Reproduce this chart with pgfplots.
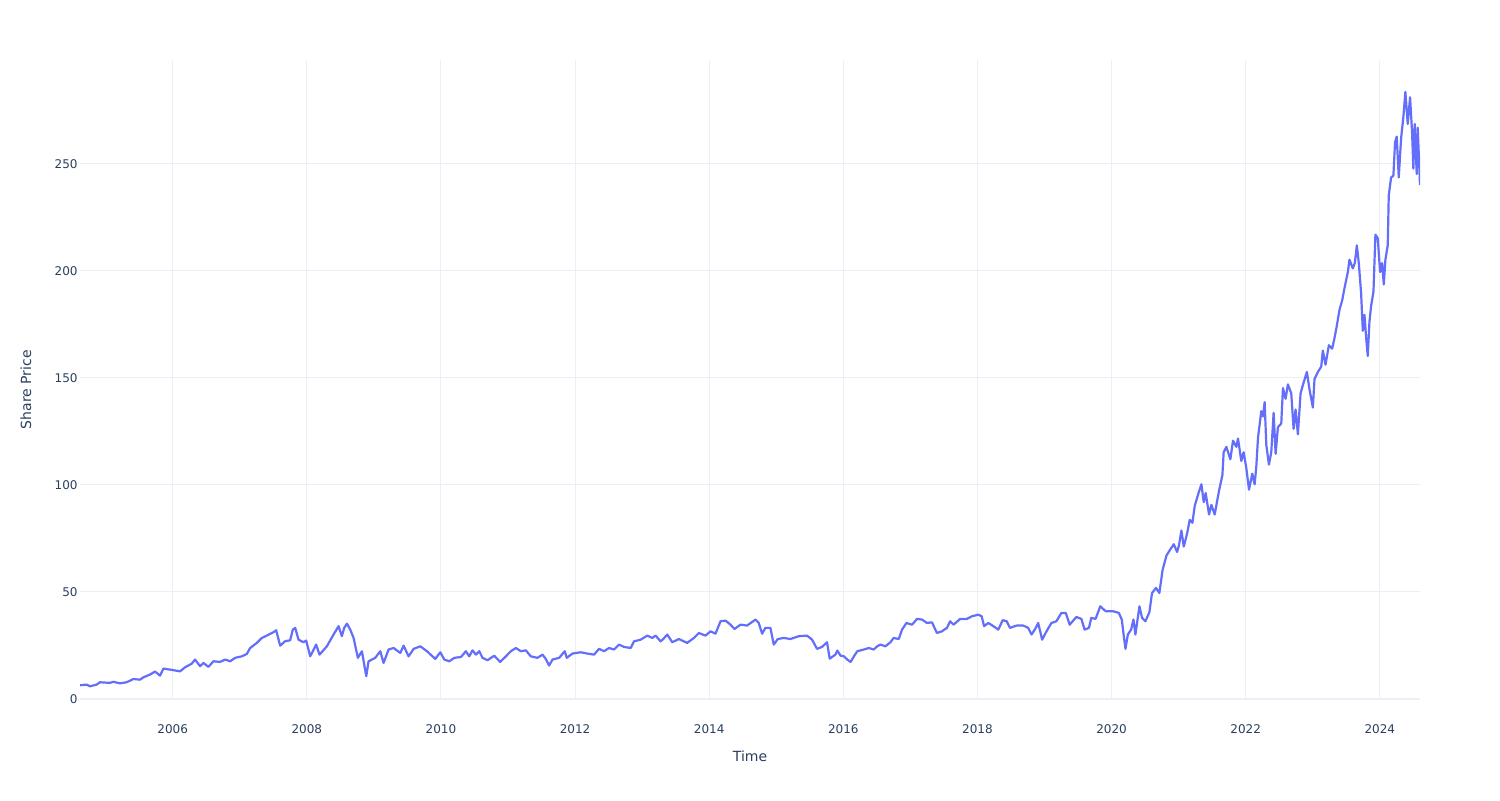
\documentclass[border=0pt]{standalone}
\usepackage{fontspec}
\setmainfont{DejaVu Sans}
\usepackage{pgfplots}
\pgfplotsset{compat=1.18}

\definecolor{linec}{HTML}{636EFA}
\definecolor{gridc}{HTML}{EBF0F8}
\definecolor{textc}{HTML}{2A3F5F}

\begin{document}
\begin{tikzpicture}
\path (0,0) rectangle (750pt,400pt);
\begin{axis}[
  scale only axis, width=670pt, height=320pt,
  at={(40pt,50pt)}, anchor=south west,
  xmin=2004.617, xmax=2024.60, ymin=-0.5, ymax=298.6,
  xtick={2006,2008,...,2024}, ytick={0,50,...,250},
  grid=major, major grid style={gridc, line width=0.5pt},
  axis line style={draw=none}, major tick length=0pt,
  /pgf/number format/assume math mode=true,
  /pgf/number format/1000 sep={},
  tick label style={font=\fontsize{6}{7}\selectfont, text=textc},
  xticklabel style={anchor=center, yshift=-14.5pt},
  yticklabel style={anchor=east, inner sep=0pt, xshift=-1pt},
  label style={font=\fontsize{7}{8.4}\selectfont, text=textc},
  xlabel={Time}, xlabel style={at={(axis description cs:0.5,-0.0875)}, anchor=center},
  ylabel={Share Price}, ylabel style={at={(axis description cs:-0.0403,0.485)}, anchor=center},
]
\draw[gridc, line width=1pt] (axis cs:2004.617,0) -- (axis cs:2024.60,0);
\addplot[linec, line width=1.1pt, mark=none, line join=round] table {
x y
2004.617 6.4
2004.716 6.7
2004.766 5.9
2004.866 6.7
2004.915 7.8
2005.065 7.5
2005.114 8.0
2005.214 7.3
2005.313 7.8
2005.413 9.3
2005.512 9.0
2005.562 10.1
2005.662 11.4
2005.736 12.8
2005.811 10.9
2005.861 14.2
2005.960 13.7
2006.109 12.9
2006.184 14.8
2006.284 16.5
2006.333 18.4
2006.408 15.3
2006.458 16.8
2006.532 15.0
2006.607 17.6
2006.706 17.3
2006.781 18.4
2006.856 17.6
2006.930 19.2
2007.030 19.9
2007.104 21.0
2007.154 23.8
2007.254 26.2
2007.328 28.5
2007.403 29.6
2007.502 31.2
2007.542 32.1
2007.602 24.9
2007.677 27.0
2007.751 27.4
2007.791 32.4
2007.826 33.2
2007.876 27.7
2007.950 26.5
2007.990 27.3
2008.050 19.9
2008.139 25.4
2008.189 20.7
2008.299 24.6
2008.398 30.1
2008.473 34.0
2008.522 29.3
2008.557 33.2
2008.597 35.2
2008.647 32.4
2008.697 28.5
2008.761 19.2
2008.821 22.3
2008.886 10.6
2008.920 17.6
2009.020 19.2
2009.095 22.3
2009.144 16.8
2009.219 23.1
2009.294 23.8
2009.393 21.5
2009.443 24.9
2009.517 19.9
2009.592 23.4
2009.692 24.6
2009.791 22.3
2009.915 18.7
2009.990 21.8
2010.050 18.4
2010.124 17.6
2010.199 19.2
2010.298 19.6
2010.372 22.3
2010.422 19.9
2010.471 22.7
2010.521 20.7
2010.571 22.3
2010.620 19.2
2010.695 18.1
2010.794 20.2
2010.883 17.3
2010.968 19.9
2011.042 22.3
2011.117 23.8
2011.191 22.3
2011.266 22.7
2011.340 19.9
2011.439 19.2
2011.514 20.7
2011.563 18.7
2011.613 15.6
2011.663 18.4
2011.762 19.2
2011.846 22.3
2011.876 19.2
2011.960 21.2
2012.084 21.8
2012.184 21.2
2012.283 20.7
2012.357 23.4
2012.432 22.3
2012.506 23.8
2012.581 23.1
2012.655 25.4
2012.730 24.3
2012.829 23.8
2012.878 26.9
2012.978 27.7
2013.077 29.6
2013.151 28.5
2013.201 29.6
2013.275 26.9
2013.315 28.0
2013.375 30.1
2013.449 26.5
2013.548 28.0
2013.623 26.9
2013.672 26.2
2013.772 28.5
2013.846 30.8
2013.945 29.6
2014.020 31.6
2014.094 30.5
2014.169 36.3
2014.243 36.6
2014.318 34.7
2014.377 32.7
2014.467 34.7
2014.566 34.3
2014.690 37.1
2014.739 35.5
2014.789 30.5
2014.839 33.2
2014.913 33.2
2014.963 25.4
2015.022 28.0
2015.112 28.5
2015.211 28.0
2015.335 29.3
2015.459 29.6
2015.534 27.7
2015.608 23.4
2015.682 24.3
2015.757 26.5
2015.797 18.8
2015.881 20.7
2015.911 22.6
2015.960 20.2
2016.010 19.9
2016.059 18.4
2016.109 17.3
2016.158 19.9
2016.208 22.3
2016.307 23.1
2016.381 23.8
2016.455 23.1
2016.505 24.6
2016.554 25.4
2016.629 24.6
2016.703 26.5
2016.752 28.5
2016.827 28.0
2016.876 32.4
2016.941 35.5
2017.025 34.7
2017.099 37.4
2017.173 37.1
2017.248 35.5
2017.322 35.8
2017.396 30.8
2017.470 31.6
2017.545 33.2
2017.594 36.3
2017.644 34.7
2017.743 37.4
2017.842 37.4
2017.916 38.6
2018.015 39.4
2018.064 38.6
2018.099 34.0
2018.163 35.5
2018.238 34.0
2018.312 32.4
2018.376 36.8
2018.436 36.3
2018.485 33.2
2018.584 34.3
2018.683 34.3
2018.757 33.2
2018.807 30.1
2018.856 32.4
2018.906 35.5
2018.965 27.7
2019.030 31.6
2019.104 35.5
2019.178 36.3
2019.252 40.2
2019.317 40.2
2019.376 34.7
2019.475 38.3
2019.550 37.4
2019.599 32.4
2019.663 33.2
2019.698 37.9
2019.762 37.4
2019.832 43.3
2019.911 41.0
2020.020 41.0
2020.109 40.2
2020.153 37.1
2020.183 29.3
2020.208 23.4
2020.243 30.1
2020.292 32.4
2020.327 37.1
2020.356 30.1
2020.416 43.3
2020.455 37.9
2020.505 36.3
2020.564 40.5
2020.604 49.5
2020.663 51.9
2020.713 49.5
2020.762 60.4
2020.819 67.0
2020.868 69.5
2020.928 72.3
2020.978 68.7
2021.007 72.0
2021.042 78.7
2021.077 71.2
2021.127 77.3
2021.166 83.7
2021.206 82.3
2021.241 90.3
2021.305 97.0
2021.340 100.3
2021.375 92.0
2021.404 96.2
2021.454 86.2
2021.489 90.7
2021.538 86.2
2021.603 97.3
2021.653 104.5
2021.672 115.3
2021.712 117.8
2021.772 112.0
2021.811 120.7
2021.861 117.8
2021.886 121.7
2021.935 111.2
2021.970 115.3
2022.010 107.8
2022.050 97.8
2022.099 105.3
2022.134 100.3
2022.159 108.7
2022.184 122.0
2022.233 134.5
2022.258 132.0
2022.283 138.7
2022.308 118.7
2022.347 109.5
2022.382 115.3
2022.417 133.7
2022.447 114.5
2022.481 127.0
2022.531 128.7
2022.556 145.3
2022.596 140.3
2022.630 147.0
2022.680 142.8
2022.715 126.2
2022.744 135.3
2022.779 123.7
2022.819 142.8
2022.864 147.8
2022.913 152.8
2022.953 144.5
2023.002 136.2
2023.027 149.5
2023.077 152.8
2023.127 155.3
2023.151 162.8
2023.191 156.2
2023.241 165.3
2023.290 163.7
2023.325 168.7
2023.360 174.5
2023.400 182.0
2023.439 186.2
2023.474 192.0
2023.524 199.5
2023.548 205.3
2023.598 201.2
2023.628 203.7
2023.658 212.0
2023.687 203.7
2023.722 189.5
2023.747 172.0
2023.772 179.5
2023.797 168.7
2023.821 160.3
2023.846 176.2
2023.871 183.7
2023.906 190.3
2023.935 217.0
2023.970 215.3
2024.005 199.5
2024.035 203.7
2024.060 193.7
2024.084 205.3
2024.119 212.0
2024.134 235.3
2024.169 243.7
2024.203 244.5
2024.228 260.3
2024.253 262.8
2024.283 243.7
2024.318 262.0
2024.352 272.0
2024.382 283.7
2024.417 268.7
2024.452 281.2
2024.481 265.3
2024.501 247.8
2024.521 268.7
2024.551 245.3
2024.566 267.0
2024.600 240.3
};
\end{axis}
\end{tikzpicture}
\end{document}
